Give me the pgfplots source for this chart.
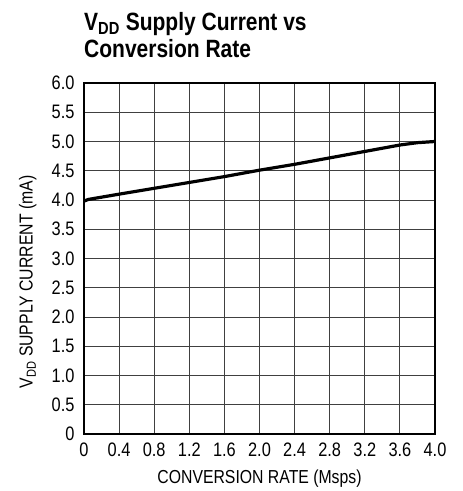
\documentclass[border=0pt]{standalone}
\usepackage{pgfplots}
\pgfplotsset{compat=1.18}
\usepackage{fontspec}
\setmainfont{Liberation Sans}[FakeStretch=0.84]
\begin{document}
\begin{tikzpicture}[x=1pt,y=1pt]
\useasboundingbox (-84,-57) rectangle (379,434);
\begin{axis}[
  scale only axis, width=351pt, height=351pt,
  xmin=0, xmax=4, ymin=0, ymax=6,
  xtick={0,0.4,...,4.01}, ytick={0,0.5,...,6.01},
  xticklabels={0,0.4,0.8,1.2,1.6,2.0,2.4,2.8,3.2,3.6,4.0},
  yticklabels={0,0.5,1.0,1.5,2.0,2.5,3.0,3.5,4.0,4.5,5.0,5.5,6.0},
  tick style={draw=none},
  grid=major, major grid style={line width=1pt, draw=black!75},
  axis line style={line width=1.4pt},
  ticklabel style={font=\fontsize{19.5}{21}\selectfont},
  xticklabel style={yshift=-5pt},
  yticklabel style={xshift=-6pt},
  label style={font=\fontsize{18.8}{20}\selectfont},
  xlabel={CONVERSION RATE (Msps)},
  xlabel style={at={(rel axis cs:0.5,0)}, anchor=center, yshift=-45pt},
  ylabel={V\textsubscript{DD} SUPPLY CURRENT (mA)},
  ylabel style={at={(rel axis cs:-0.16,0.433)}, anchor=center},
]
\addplot[line width=3.2pt, black] coordinates {
(0,3.98) (0.05,4.01) (0.4,4.1) (0.8,4.2) (1.2,4.3) (1.6,4.4) (2.0,4.51) (2.4,4.61) (2.8,4.72) (3.2,4.83) (3.6,4.94) (3.8,4.98) (4.0,5.0)};
\end{axis}
\node[anchor=north west, align=left, inner sep=0pt, font=\fontsize{25}{27}\selectfont\bfseries] at (0,422)
  {V\textsubscript{DD} Supply Current vs\\Conversion Rate};
\end{tikzpicture}
\end{document}
